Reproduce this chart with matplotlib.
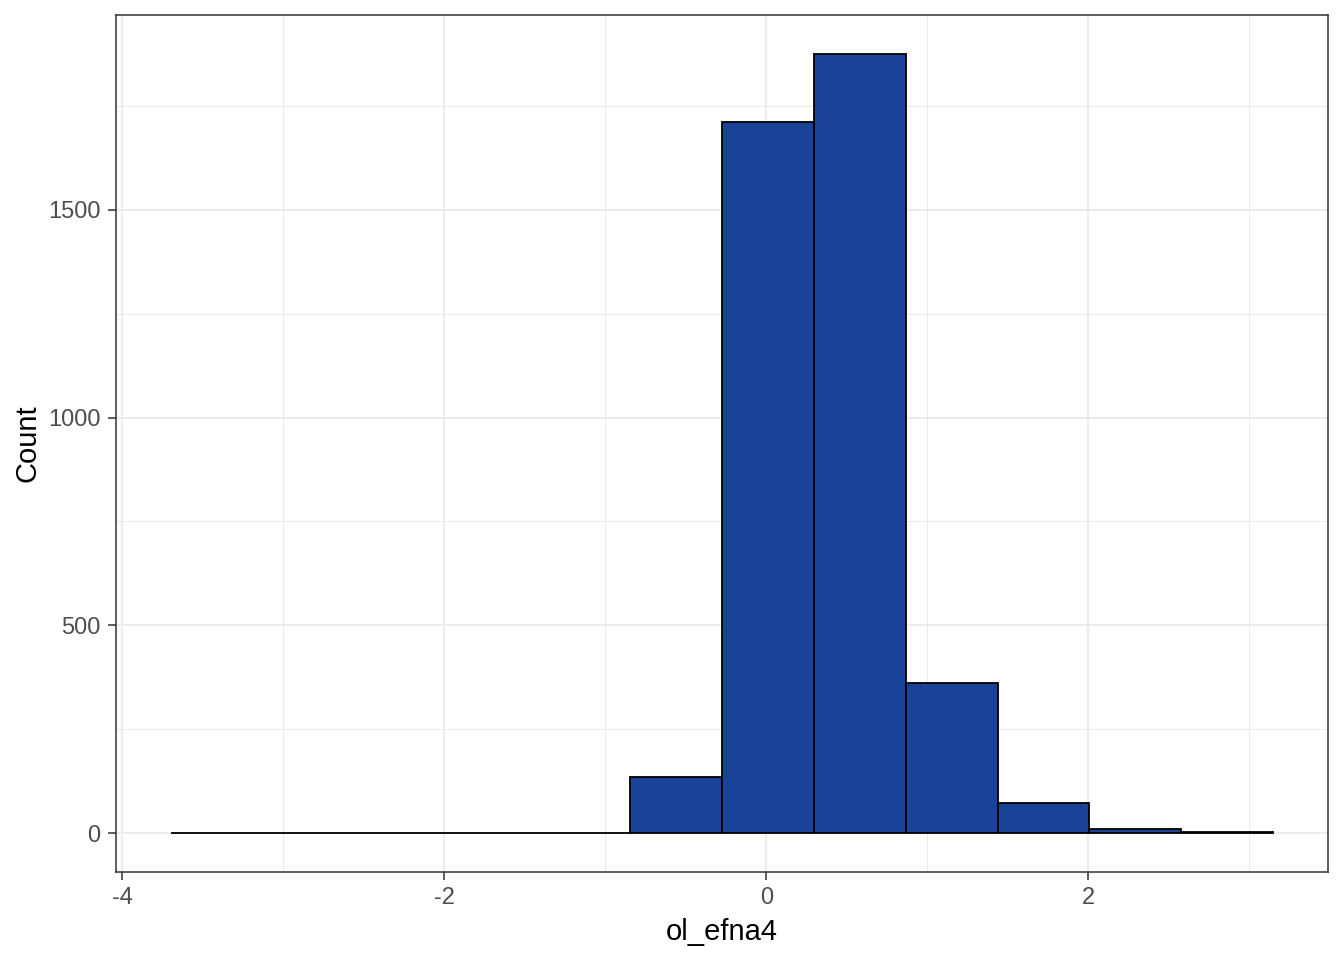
import numpy as np
import matplotlib.pyplot as plt
from matplotlib.ticker import MultipleLocator

plt.rcParams['font.family'] = ['Liberation Sans', 'DejaVu Sans']
plt.rcParams['axes.unicode_minus'] = False

# histogram of ol_efna4 (12 bins)
bin_edges = np.linspace(-3.70, 3.149, 13)
counts = [1, 0, 0, 0, 0, 134, 1710, 1875, 361, 72, 9, 2]
xticks = [-4, -2, 0, 2]
yticks = [0, 500, 1000, 1500]

fig = plt.figure(figsize=(13.44, 9.6), dpi=100)
ax = fig.add_axes([116/1344, 88/960, (1328-116)/1344, (872-15)/960])

ax.bar(bin_edges[:-1], counts, width=np.diff(bin_edges), align='edge',
       color='#184399', edgecolor='black', linewidth=1.3, zorder=3)

ax.set_xlim(-4.04, 3.49)
ax.set_ylim(-93.7, 1968.7)
ax.set_xticks(xticks)
ax.set_yticks(yticks)
ax.xaxis.set_minor_locator(MultipleLocator(1))
ax.yaxis.set_minor_locator(MultipleLocator(250))
ax.grid(which='major', color='#EBEBEB', linewidth=1.3, zorder=0)
ax.grid(which='minor', color='#EBEBEB', linewidth=0.7, zorder=0)
ax.tick_params(which='minor', length=0)
ax.tick_params(which='major', length=6, width=1.1, color='#333333',
               labelsize=17, labelcolor='#4D4D4D', pad=5)
for s in ax.spines.values():
    s.set_color('#333333')
    s.set_linewidth(1.1)

ax.set_xlabel('ol_efna4', fontsize=21, labelpad=6)
ax.set_ylabel('Count', fontsize=21, labelpad=5)

fig.savefig('out.png', dpi=100)
